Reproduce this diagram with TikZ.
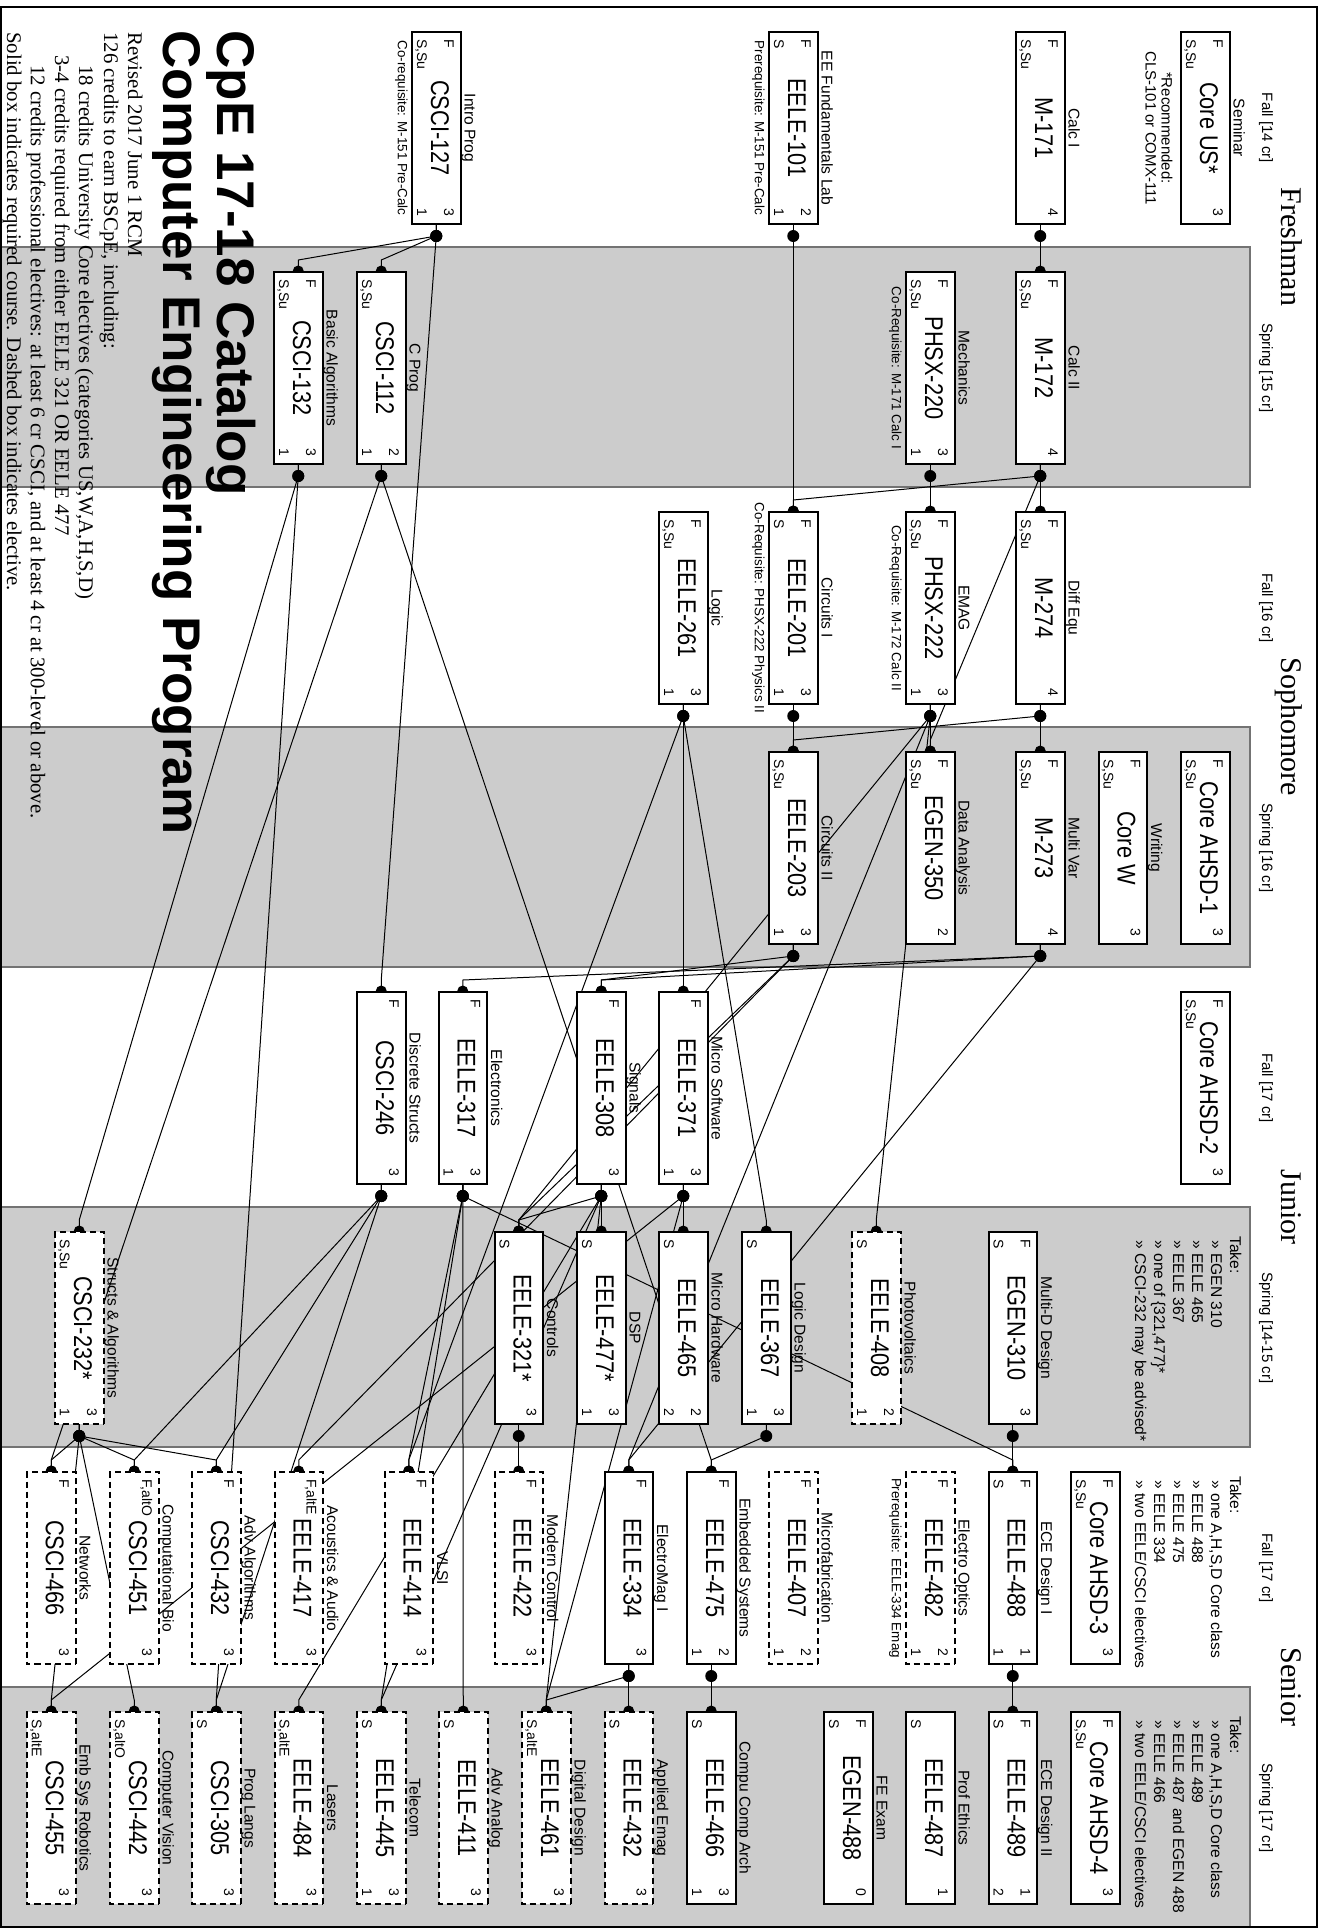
\documentclass[tikz,border=0pt]{standalone}
\usepackage{fontspec}
\setmainfont{Liberation Serif}
\setsansfont{Liberation Sans}
\newfontfamily\codefam[FakeStretch=0.85]{Liberation Sans}
\pgfdeclarelayer{bands}
\pgfdeclarelayer{wires}
\pgfsetlayers{bands,wires,main}
\tikzset{
  crsbox/.style={rectangle,draw,line width=1pt,fill=white,minimum width=96pt,minimum height=24.25pt,inner sep=0pt},
  elect/.style={crsbox,dash pattern=on 3pt off 2pt},
  codetxt/.style={font=\codefam\fontsize{12.8}{14}\selectfont,inner sep=0pt},
  smalltxt/.style={font=\sffamily\fontsize{7}{8}\selectfont,inner sep=0pt},
  labtxt/.style={font=\sffamily\fontsize{7.8}{9}\selectfont,inner sep=0pt},
  notetxt/.style={font=\sffamily\fontsize{6.7}{8}\selectfont,inner sep=0pt,align=center},
  taketxt/.style={font=\sffamily\fontsize{7.8}{9}\selectfont,inner sep=0pt,anchor=base west},
  hdtxt/.style={font=\fontsize{15}{18}\selectfont,inner sep=0pt,anchor=base},
  subtxt/.style={font=\sffamily\fontsize{7.5}{9}\selectfont,inner sep=0pt,anchor=base},
  infotxt/.style={font=\fontsize{10.4}{12}\selectfont,inner sep=0pt,anchor=base west},
  wire/.style={line width=0.5pt},
}
\newcommand\mkcourse[9]{%
  \pgfmathsetmacro\ccX{128+240*#2}%
  \pgfmathsetmacro\ccL{32+240*#2}%
  \pgfmathsetmacro\ccR{224+240*#2}%
  \pgfmathsetmacro\ccB{#3}%
  \pgfmathsetmacro\ccT{#3+48.5}%
  \pgfmathsetmacro\ccM{#3+24.25}%
  \node[#4] (#1) at (\ccX,\ccM) {};
  \node[codetxt,anchor=base] at (\ccX,{\ccB+19}) {#5};
  \node[smalltxt,anchor=base west] at ({\ccL+7},{\ccB+32}) {#6};
  \node[smalltxt,anchor=base west] at ({\ccL+7},{\ccB+5}) {#7};
  \node[smalltxt,anchor=base east] at ({\ccR-7},{\ccB+32}) {#8};
  \node[smalltxt,anchor=base east] at ({\ccR-7},{\ccB+5}) {#9};
  \coordinate (#1-r) at (\ccR,\ccM);
  \coordinate (#1-o) at ({\ccR+12},\ccM);
  \coordinate (#1-i) at ({\ccL-12},\ccM);
  \coordinate (#1-e) at ({\ccL-1},\ccM);
}
\newcommand\abovelab[1]{\node[labtxt,anchor=base] at (\ccX,{\ccT+4}) {#1};}
\newcommand\belownote[1]{\node[notetxt,anchor=north] at (\ccX,{\ccB-4}) {#1};}
\newcommand\conn[2]{%
  \begin{pgfonlayer}{wires}
    \draw[wire] (#1-r) -- (#1-o) -- (#2-i) -- (#2-e);
    \fill (#1-o) circle (6);
    \fill (#2-e) circle (5.5);
  \end{pgfonlayer}}
\begin{document}
\begin{tikzpicture}[x=0.5pt,y=0.5pt,rotate=-90,transform shape]
\path[use as bounding box] (0,0) rectangle (1929,1323);
\begin{pgfonlayer}{bands}
  \foreach \a in {247,727,1207,1687}
    \filldraw[fill=black!20,draw=black!55,line width=0.6pt] (\a,1) rectangle ({\a+240},1250);
\end{pgfonlayer}
\draw[line width=1pt] (7,1) rectangle (1927,1317);

% headers
\node[hdtxt] (hFr) at (247,1281) {Freshman};
\node[hdtxt] (hSo) at (727,1281) {Sophomore};
\node[hdtxt] (hJu) at (1207,1281) {Junior};
\node[hdtxt] (hSe) at (1687,1281) {Senior};
\node[subtxt] (s0) at (128,1262) {Fall [14 cr]};
\node[subtxt] (s1) at (368,1262) {Spring [15 cr]};
\node[subtxt] (s2) at (608,1262) {Fall [16 cr]};
\node[subtxt] (s3) at (848,1262) {Spring [16 cr]};
\node[subtxt] (s4) at (1088,1262) {Fall [17 cr]};
\node[subtxt] (s5) at (1328,1262) {Spring [14-15 cr]};
\node[subtxt] (s6) at (1568,1262) {Fall [17 cr]};
\node[subtxt] (s7) at (1808,1262) {Spring [17 cr]};

% title and info
\node[font=\sffamily\bfseries\fontsize{26.5}{28}\selectfont,inner sep=0pt,anchor=base west] (t1) at (30,217) {CpE 17-18 Catalog};
\node[font=\sffamily\bfseries\fontsize{26.5}{28}\selectfont,inner sep=0pt,anchor=base west] (t2) at (30,163) {Computer Engineering Program};
\node[infotxt] (i1) at (32,128) {Revised 2017 June 1 RCM};
\node[infotxt] (i2) at (32,104) {126 credits to earn BSCpE, including:};
\node[infotxt] (i3) at (65,79) {18 credits University Core electives (categories US,W,A,H,S,D)};
\node[infotxt] (i4) at (55,55) {3-4 credits required from either EELE 321 OR EELE 477};
\node[infotxt] (i5) at (65,31) {12 credits professional electives: at least 6 cr CSCI, and at least 4 cr at 300-level or above.};
\node[infotxt] (i6) at (32,7) {Solid box indicates required course. Dashed box indicates elective.};

% take blocks
\node[taketxt] (ta0) at (1236,1230) {Take:};
\node[taketxt] (ta1) at (1240,1211) {» EGEN 310};
\node[taketxt] (ta2) at (1240,1192) {» EELE 465};
\node[taketxt] (ta3) at (1240,1173) {» EELE 367};
\node[taketxt] (ta4) at (1240,1154) {» one of \{321,477\}*};
\node[taketxt] (ta5) at (1240,1135) {» CSCI-232 may be advised*};
\node[taketxt] (tb0) at (1476,1230) {Take:};
\node[taketxt] (tb1) at (1480,1211) {» one A,H,S,D Core class};
\node[taketxt] (tb2) at (1480,1192) {» EELE 488};
\node[taketxt] (tb3) at (1480,1173) {» EELE 475};
\node[taketxt] (tb4) at (1480,1154) {» EELE 334};
\node[taketxt] (tb5) at (1480,1135) {» two EELE/CSCI electives};
\node[taketxt] (tc0) at (1716,1230) {Take:};
\node[taketxt] (tc1) at (1720,1211) {» one A,H,S,D Core class};
\node[taketxt] (tc2) at (1720,1192) {» EELE 489};
\node[taketxt] (tc3) at (1720,1173) {» EELE 487 and EGEN 488};
\node[taketxt] (tc4) at (1720,1154) {» EELE 466};
\node[taketxt] (tc5) at (1720,1135) {» two EELE/CSCI electives};

% column 0
\mkcourse{cus}{0}{1181}{crsbox}{Core US*}{F}{S,Su}{3}{}\abovelab{Seminar}
\node[font=\sffamily\fontsize{7.5}{8}\selectfont,inner sep=0pt,align=center,anchor=north] (rec) at (128,1173) {*Recommended:\\CLS-101 or COMX-111};
\mkcourse{m171}{0}{1016}{crsbox}{M-171}{F}{S,Su}{4}{}\abovelab{Calc I}
\mkcourse{e101}{0}{769}{crsbox}{EELE-101}{F}{S}{2}{1}\abovelab{EE Fundamentals Lab}\belownote{Prerequisite: M-151 Pre-Calc}
\mkcourse{c127}{0}{412}{crsbox}{CSCI-127}{F}{S,Su}{3}{1}\abovelab{Intro Prog}\belownote{Co-requisite: M-151 Pre-Calc}
% column 1
\mkcourse{m172}{1}{1016}{crsbox}{M-172}{F}{S,Su}{4}{}\abovelab{Calc II}
\mkcourse{p220}{1}{906}{crsbox}{PHSX-220}{F}{S,Su}{3}{1}\abovelab{Mechanics}\belownote{Co-Requisite: M-171 Calc I}
\mkcourse{c112}{1}{357}{crsbox}{CSCI-112}{}{S,Su}{2}{1}\abovelab{C Prog}
\mkcourse{c132}{1}{274}{crsbox}{CSCI-132}{F}{S,Su}{3}{1}\abovelab{Basic Algorithms}
% column 2
\mkcourse{m274}{2}{1016}{crsbox}{M-274}{F}{S,Su}{4}{}\abovelab{Diff Equ}
\mkcourse{p222}{2}{906}{crsbox}{PHSX-222}{F}{S,Su}{3}{1}\abovelab{EMAG}\belownote{Co-Requisite: M-172 Calc II}
\mkcourse{e201}{2}{769}{crsbox}{EELE-201}{F}{S}{3}{1}\abovelab{Circuits I}\belownote{Co-Requisite: PHSX-222 Physics II}
\mkcourse{e261}{2}{659}{crsbox}{EELE-261}{F}{S,Su}{3}{1}\abovelab{Logic}
% column 3
\mkcourse{ahsd1}{3}{1181}{crsbox}{Core AHSD-1}{F}{S,Su}{3}{}
\mkcourse{corew}{3}{1098.5}{crsbox}{Core W}{F}{S,Su}{3}{}\abovelab{Writing}
\mkcourse{m273}{3}{1016}{crsbox}{M-273}{F}{S,Su}{4}{}\abovelab{Multi Var}
\mkcourse{g350}{3}{906}{crsbox}{EGEN-350}{F}{S,Su}{2}{}\abovelab{Data Analysis}
\mkcourse{e203}{3}{769}{crsbox}{EELE-203}{}{S,Su}{3}{1}\abovelab{Circuits II}
% column 4
\mkcourse{ahsd2}{4}{1181}{crsbox}{Core AHSD-2}{F}{S,Su}{3}{}
\mkcourse{e371}{4}{659}{crsbox}{EELE-371}{F}{}{3}{1}\abovelab{Micro Software}
\mkcourse{e308}{4}{577}{crsbox}{EELE-308}{F}{}{3}{}\abovelab{Signals}
\mkcourse{e317}{4}{438.5}{crsbox}{EELE-317}{F}{}{3}{1}\abovelab{Electronics}
\mkcourse{c246}{4}{357}{crsbox}{CSCI-246}{F}{}{3}{}\abovelab{Discrete Structs}
% column 5
\mkcourse{g310}{5}{988.5}{crsbox}{EGEN-310}{F}{S}{3}{}\abovelab{Multi-D Design}
\mkcourse{e408}{5}{852}{elect}{EELE-408}{}{S}{2}{1}\abovelab{Photovoltaics}
\mkcourse{e367}{5}{742}{crsbox}{EELE-367}{}{S}{3}{1}\abovelab{Logic Design}
\mkcourse{e465}{5}{659}{crsbox}{EELE-465}{}{S}{2}{2}\abovelab{Micro Hardware}
\mkcourse{e477}{5}{577}{crsbox}{EELE-477*}{}{S}{3}{1}\abovelab{DSP}
\mkcourse{e321}{5}{494.5}{crsbox}{EELE-321*}{}{S}{3}{}\abovelab{Controls}
\mkcourse{c232}{5}{55}{elect}{CSCI-232*}{}{S,Su}{3}{1}\abovelab{Structs \& Algorithms}
% column 6
\mkcourse{ahsd3}{6}{1071}{crsbox}{Core AHSD-3}{F}{S,Su}{3}{}
\mkcourse{e488}{6}{988.5}{crsbox}{EELE-488}{F}{S}{1}{1}\abovelab{ECE Design I}
\mkcourse{e482}{6}{906}{elect}{EELE-482}{F}{}{2}{1}\abovelab{Electro Optics}\belownote{Prerequisite: EELE-334 Emag}
\mkcourse{e407}{6}{769}{elect}{EELE-407}{F}{}{2}{1}\abovelab{Microfabrication}
\mkcourse{e475}{6}{687}{crsbox}{EELE-475}{F}{}{2}{1}\abovelab{Embedded Systems}
\mkcourse{e334}{6}{604.5}{crsbox}{EELE-334}{F}{}{3}{}\abovelab{ElectroMag I}
\mkcourse{e422}{6}{494.5}{elect}{EELE-422}{F}{}{3}{}\abovelab{Modern Control}
\mkcourse{e414}{6}{384.5}{elect}{EELE-414}{F}{}{3}{}\abovelab{VLSI}
\mkcourse{e417}{6}{274.5}{elect}{EELE-417}{F,altE}{}{3}{}\abovelab{Acoustics \& Audio}
\mkcourse{c432}{6}{192}{elect}{CSCI-432}{F}{}{3}{}\abovelab{Adv Algorithms}
\mkcourse{c451}{6}{110}{elect}{CSCI-451}{F,altO}{}{3}{}\abovelab{Computational Bio}
\mkcourse{c466}{6}{27}{elect}{CSCI-466}{F}{}{3}{}\abovelab{Networks}
% column 7
\mkcourse{ahsd4}{7}{1071}{crsbox}{Core AHSD-4}{F}{S,Su}{3}{}
\mkcourse{e489}{7}{988.5}{crsbox}{EELE-489}{F}{S}{1}{2}\abovelab{ECE Design II}
\mkcourse{e487}{7}{906}{crsbox}{EELE-487}{}{S}{1}{}\abovelab{Prof Ethics}
\mkcourse{g488}{7}{824}{crsbox}{EGEN-488}{F}{S}{0}{}\abovelab{FE Exam}
\mkcourse{e466}{7}{687}{crsbox}{EELE-466}{}{S}{3}{1}\abovelab{Compu Comp Arch}
\mkcourse{e432}{7}{604.5}{elect}{EELE-432}{}{S}{3}{}\abovelab{Applied Emag}
\mkcourse{e461}{7}{522}{elect}{EELE-461}{}{S,altE}{3}{}\abovelab{Digital Design}
\mkcourse{e411}{7}{439}{elect}{EELE-411}{}{S}{3}{}\abovelab{Adv Analog}
\mkcourse{e445}{7}{357}{elect}{EELE-445}{}{S}{3}{1}\abovelab{Telecom}
\mkcourse{e484}{7}{274.5}{elect}{EELE-484}{}{S,altE}{3}{}\abovelab{Lasers}
\mkcourse{c305}{7}{192}{elect}{CSCI-305}{}{S}{3}{}\abovelab{Prog Langs}
\mkcourse{c442}{7}{110}{elect}{CSCI-442}{}{S,altO}{3}{}\abovelab{Computer Vision}
\mkcourse{c455}{7}{27}{elect}{CSCI-455}{}{S,altE}{3}{}\abovelab{Emb Sys Robotics}

% connectors
\conn{m171}{m172}\conn{e101}{e201}\conn{c127}{c112}\conn{c127}{c132}\conn{c127}{c246}
\conn{m172}{m274}\conn{m172}{e201}\conn{m172}{g350}
\conn{p220}{p222}
\conn{c112}{e475}\conn{c112}{c466}
\conn{c132}{c232}\conn{c132}{c305}
\conn{m274}{m273}\conn{m274}{e203}
\conn{p222}{g350}\conn{p222}{e408}\conn{p222}{e334}\conn{p222}{e321}
\conn{e201}{e203}
\conn{e261}{e371}\conn{e261}{e367}\conn{e261}{e414}
\conn{m273}{e334}\conn{m273}{e308}\conn{m273}{e317}
\conn{e203}{e308}\conn{e203}{e321}\conn{e203}{e417}
\conn{e371}{e465}\conn{e371}{c455}\conn{e371}{e461}
\conn{e308}{e321}\conn{e308}{e477}\conn{e308}{e484}\conn{e308}{e445}\conn{e308}{e461}
\conn{e317}{e488}\conn{e317}{e411}\conn{e317}{e445}\conn{e317}{e414}
\conn{c246}{c451}\conn{c246}{c432}\conn{c246}{c305}
\conn{g310}{e488}
\conn{e367}{e475}
\conn{e321}{e422}
\conn{c232}{c451}\conn{c232}{c432}\conn{c232}{c466}\conn{c232}{c455}\conn{c232}{c442}
\conn{e334}{e432}\conn{e334}{e461}
\conn{e475}{e466}
\conn{e488}{e489}
\end{tikzpicture}
\end{document}
